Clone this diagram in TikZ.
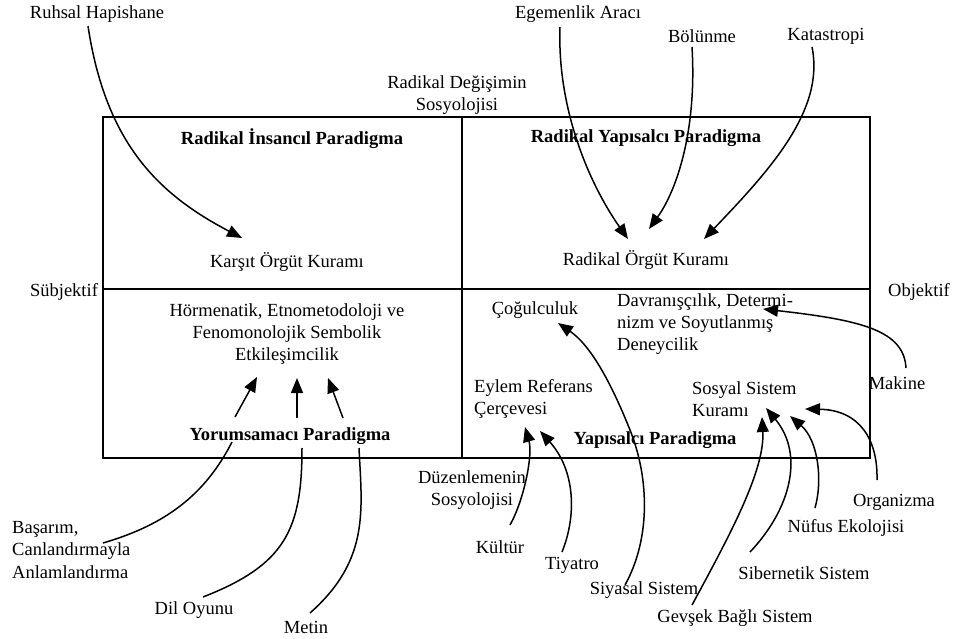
\documentclass[tikz,border=0pt]{standalone}
\usepackage{fontspec}
\setmainfont{Liberation Serif}
\usetikzlibrary{arrows.meta}
\begin{document}
\begin{tikzpicture}[x=1pt,y=-1pt,
  lbl/.style={font=\fontsize{18.5}{22.3}\selectfont, inner sep=0pt},
  bl/.style={font=\fontsize{18.5}{22.3}\selectfont\bfseries, inner sep=0pt},
  con/.style={line width=1.5pt},
  arr/.style={con, -{Triangle[length=15pt,width=12pt]}},
  frame/.style={line width=1.8pt}]
\useasboundingbox (0,0) rectangle (954,639);
% frame
\draw[frame] (103,117) rectangle (870,458);
\draw[frame] (462,117) -- (462,458);
\draw[frame] (103,289) -- (870,289);
% labels
\node[lbl] (ruhsal) at (97,14) {Ruhsal Hapishane};
\node[lbl, align=center] (radsos) at (457,95) {Radikal Değişimin\\Sosyolojisi};
\node[bl] (rip) at (292,139) {Radikal İnsancıl Paradigma};
\node[bl] (ryp) at (646,138) {Radikal Yapısalcı Paradigma};
\node[lbl] (egem) at (578,14) {Egemenlik Aracı};
\node[lbl] (bol) at (702,36) {Bölünme};
\node[lbl] (kat) at (826,36) {Katastropi};
\node[lbl] (karsit) at (287,262) {Karşıt Örgüt Kuramı};
\node[lbl] (radork) at (646,260) {Radikal Örgüt Kuramı};
\node[lbl] (subj) at (64,292) {Sübjektif};
\node[lbl] (obj) at (919,292) {Objektif};
\node[lbl, align=center] (horm) at (287,334) {Hörmenatik, Etnometodoloji ve\\Fenomonolojik Sembolik\\Etkileşimcilik};
\node[bl] (yor) at (290,436) {Yorumsamacı Paradigma};
\node[lbl, align=left, anchor=west] (basarim) at (12,550) {Başarım,\\Canlandırmayla\\Anlamlandırma};
\node[lbl] (dil) at (194,610) {Dil Oyunu};
\node[lbl] (metin) at (306,627) {Metin};
\node[lbl] (cogul) at (535,310) {Çoğulculuk};
\node[lbl, align=left, anchor=west] (davr) at (617,324) {Davranışçılık, Determi-\\nizm ve Soyutlanmış\\Deneycilik};
\node[lbl, align=left, anchor=west] (eylem) at (474,399) {Eylem Referans\\Çerçevesi};
\node[lbl, align=left, anchor=west] (sosyal) at (692,399) {Sosyal Sistem\\Kuramı};
\node[bl] (yap) at (655,440) {Yapısalcı Paradigma};
\node[lbl, align=center] (duzen) at (472,490) {Düzenlemenin\\Sosyolojisi};
\node[lbl] (kultur) at (500,547) {Kültür};
\node[lbl] (tiyatro) at (572,565) {Tiyatro};
\node[lbl] (siyasal) at (644,590) {Siyasal Sistem};
\node[lbl] (gevsek) at (735,618) {Gevşek Bağlı Sistem};
\node[lbl] (siber) at (804,573) {Sibernetik Sistem};
\node[lbl] (nufus) at (846,528) {Nüfus Ekolojisi};
\node[lbl] (organ) at (894,502) {Organizma};
\node[lbl] (makine) at (897,383) {Makine};
% connector end points
\coordinate (ruhsalS) at (88,26);   \coordinate (karsitT) at (242,238);
\coordinate (egemS) at (560,27);    \coordinate (radT1) at (628,239);
\coordinate (bolS) at (692,47);     \coordinate (radT2) at (649,229);
\coordinate (katS) at (812,47);     \coordinate (radT3) at (704,239);
\coordinate (yorA1) at (235,417);   \coordinate (hormT1) at (257,377);
\coordinate (yorA2) at (297,418);   \coordinate (hormT2) at (297,378);
\coordinate (yorA3) at (343,418);   \coordinate (hormT3) at (328,378);
\coordinate (basS) at (103,543);    \coordinate (yorB1) at (232,442);
\coordinate (dilS) at (203,597);    \coordinate (yorB2) at (302,448);
\coordinate (metS) at (310,613);    \coordinate (yorB3) at (359,448);
\coordinate (kultS) at (510,525);   \coordinate (eylT1) at (525,427);
\coordinate (tiyS) at (562,552);    \coordinate (eylT2) at (540,431);
\coordinate (siyS) at (625,585);    \coordinate (siyM) at (630,430);
\coordinate (cogT) at (558,323);
\coordinate (gevS) at (692,605);    \coordinate (sosT1) at (762,417);
\coordinate (sibS) at (750,552);    \coordinate (sosT2) at (766,408);
\coordinate (nufS) at (815,508);    \coordinate (sosT3) at (790,416);
\coordinate (orgS) at (877,480);    \coordinate (sosT4) at (805,409);
\coordinate (makS) at (906,368);    \coordinate (davT) at (763,309);
% connectors
\draw[arr] (ruhsalS) .. controls (106,145) and (160,195) .. (karsitT);
\draw[arr] (egemS) .. controls (557,110) and (590,185) .. (radT1);
\draw[arr] (bolS) .. controls (697,130) and (677,190) .. (radT2);
\draw[arr] (katS) .. controls (825,110) and (770,170) .. (radT3);
\draw[arr] (yorA1) -- (hormT1);
\draw[arr] (yorA2) -- (hormT2);
\draw[arr] (yorA3) -- (hormT3);
\draw[con] (basS) .. controls (165,525) and (205,495) .. (yorB1);
\draw[con] (dilS) .. controls (285,565) and (302,530) .. (yorB2);
\draw[con] (metS) .. controls (370,560) and (362,510) .. (yorB3);
\draw[arr] (kultS) .. controls (524,500) and (533,455) .. (eylT1);
\draw[arr] (tiyS) .. controls (577,515) and (575,470) .. (eylT2);
\draw[arr] (siyS) .. controls (650,540) and (650,480) .. (siyM) .. controls (610,380) and (590,345) .. (cogT);
\draw[arr] (gevS) .. controls (730,535) and (765,470) .. (sosT1);
\draw[arr] (sibS) .. controls (790,510) and (805,455) .. (sosT2);
\draw[arr] (nufS) .. controls (823,480) and (818,440) .. (sosT3);
\draw[arr] (orgS) .. controls (878,440) and (860,410) .. (sosT4);
\draw[arr] (makS) .. controls (904,330) and (860,320) .. (davT);
\end{tikzpicture}
\end{document}
